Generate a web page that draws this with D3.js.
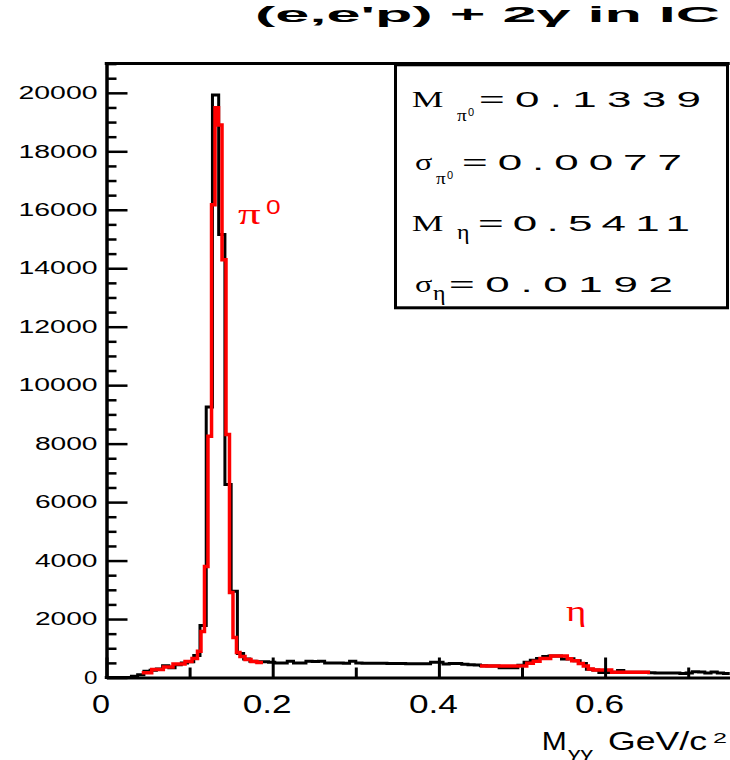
<!DOCTYPE html>
<html><head><meta charset="utf-8">
<script src="https://cdn.jsdelivr.net/npm/d3@7"></script>
<style>html,body{margin:0;padding:0;background:#fff;} svg{display:block;}</style>
</head><body>
<svg id="chart" width="730" height="760"></svg>
<script>
// Two-photon invariant mass, 100 bins over 0 – 0.75 GeV/c^2
const massLow = 0, massHigh = 0.75, nBins = 100;
const counts = [
  0, 0, 0, 0, 40, 90, 210, 250, 290, 400,
  330, 440, 500, 540, 750, 1780, 9250, 19930, 15150, 6600,
  2950, 820, 630, 560, 540, 540, 520, 500, 500, 560,
  500, 500, 560, 550, 560, 500, 500, 500, 490, 560,
  500, 490, 490, 490, 490, 480, 480, 480, 470, 470,
  470, 470, 520, 520, 460, 480, 480, 450, 440, 430,
  400, 395, 395, 330, 330, 330, 420, 520, 590, 650,
  720, 735, 735, 630, 640, 570, 480, 280, 255, 170,
  170, 180, 240, 180, 180, 180, 180, 160, 150, 150,
  150, 150, 140, 150, 200, 190, 150, 190, 150, 140
];

// pi0 fit curve: step start (GeV/c^2) and value
const fitPiX = [0.0424, 0.0544, 0.0684, 0.080, 0.0945, 0.1029, 0.1095, 0.1137, 0.1179, 0.1221,
                0.1264, 0.1306, 0.1348, 0.1390, 0.1438, 0.1480, 0.1522, 0.1564, 0.1606, 0.1667,
                0.1739, 0.1811];
const fitPiY = [160, 270, 360, 460, 550, 650, 900, 1570, 3800, 8250,
                16170, 19490, 18900, 14290, 8310, 2906, 1370, 855, 720, 615,
                550, 510];
const fitPiEnd = 0.1883;

// eta fit curve
const fitEtaX = [0.4495, 0.5057, 0.5136, 0.5217, 0.5345, 0.5545, 0.5598, 0.5678, 0.5738, 0.5798, 0.5858, 0.6079];
const fitEtaY = [395, 490, 560, 650, 735, 640, 570, 480, 395, 290, 255, 180];
const fitEtaEnd = 0.654;

const yMajorTicks = [0, 2000, 4000, 6000, 8000, 10000, 12000, 14000, 16000, 18000, 20000];
const xMajorTicks = [0, 0.2, 0.4, 0.6];
const xMinorTicks = [0.1, 0.3, 0.5, 0.7];
const xTickLabels = ["0", "0.2", "0.4", "0.6"];

const statSymbols = ["M", "σ", "M", "σ"];
const statSubs = ["π", "π", "η", "η"];
const statSups = ["0", "0", "", ""];
const statValues = ["0.1339", "0.0077", "0.5411", "0.0192"];

const svg = d3.select("#chart");
const x = d3.scaleLinear().domain([massLow, massHigh]).range([106.5, 729.75]);
const y = d3.scaleLinear().domain([0, 21000]).range([677.5, 63.6]);
const FONT = "'Liberation Sans', Arial, Helvetica, sans-serif";
const SERIF = "'Liberation Serif', 'Times New Roman', serif";

// text squeezed/stretched to a fixed width
function txt(g, s, px, py, size, width, opts = {}) {
  return g.append("text")
    .attr("x", px).attr("y", py)
    .attr("font-family", opts.family || FONT)
    .attr("font-size", size)
    .attr("font-weight", opts.weight || "normal")
    .attr("fill", opts.fill || "#000")
    .attr("text-anchor", opts.anchor || "start")
    .attr("textLength", width)
    .attr("lengthAdjust", "spacingAndGlyphs")
    .text(s);
}
// wide text: glyphs widened by `stretch`, the rest of the width taken up as letter gaps
function wide(g, s, px, py, size, width, stretch, opts = {}) {
  const t = g.append("text")
    .attr("transform", `translate(${px},${py}) scale(${stretch},1)`)
    .attr("font-family", opts.family || FONT)
    .attr("font-size", size)
    .attr("font-weight", opts.weight || "normal")
    .attr("fill", opts.fill || "#000")
    .text(s);
  if (s.length > 1) t.attr("textLength", width / stretch).attr("lengthAdjust", "spacing");
  return t;
}

// ---- data histogram ----
const binW = (massHigh - massLow) / nBins;
const histPts = counts.map((c, i) => [massLow + i * binW, c]);
histPts.push([massHigh, counts[nBins - 1]]);
const stepLine = d3.line().x(d => x(d[0])).y(d => y(d[1])).curve(d3.curveStepAfter);
svg.append("path").attr("d", stepLine(histPts))
  .attr("fill", "none").attr("stroke", "#000").attr("stroke-width", 3);

// ---- fit curves ----
function fitPath(xs, ys, xEnd) {
  const pts = xs.map((v, i) => [v, ys[i]]);
  pts.push([xEnd, ys[ys.length - 1]]);
  svg.append("path").attr("d", stepLine(pts))
    .attr("fill", "none").attr("stroke", "#ff0000").attr("stroke-width", 3.5);
}
fitPath(fitPiX, fitPiY, fitPiEnd);
fitPath(fitEtaX, fitEtaY, fitEtaEnd);

// ---- axes ----
const yAxis = svg.append("g").attr("transform", `translate(${x(0)},0)`)
  .call(d3.axisLeft(y).tickValues(yMajorTicks).tickSizeInner(-21).tickSizeOuter(0)
        .tickPadding(9).tickFormat(d3.format("d")));
yAxis.selectAll(".tick line").attr("stroke-width", 2.5);
yAxis.select(".domain").attr("stroke-width", 3.5);
yAxis.selectAll(".tick text")
  .attr("font-family", FONT).attr("font-size", 18)
  .attr("textLength", d => 16.4 * String(d).length - 3)
  .attr("lengthAdjust", "spacingAndGlyphs");

const yMinor = d3.range(0, 21001, 500).filter(v => v % 2000 !== 0);
const yAxisMinor = svg.append("g").attr("transform", `translate(${x(0)},0)`)
  .call(d3.axisLeft(y).tickValues(yMinor).tickSizeInner(-10).tickSizeOuter(0).tickFormat(""));
yAxisMinor.select(".domain").remove();
yAxisMinor.selectAll(".tick line").attr("stroke-width", 2.5);

const xAxis = svg.append("g").attr("transform", `translate(0,${y(0)})`)
  .call(d3.axisBottom(x).tickValues(xMajorTicks).tickSizeInner(-20).tickSizeOuter(0)
        .tickPadding(17.75).tickFormat((d, i) => xTickLabels[i]));
xAxis.selectAll(".tick line").attr("stroke-width", 3);
xAxis.select(".domain").attr("stroke-width", 3);
xAxis.selectAll(".tick text")
  .attr("x", -6)
  .attr("font-family", FONT).attr("font-size", 25)
  .attr("textLength", (d, i) => xTickLabels[i].length === 1 ? 18 : 49)
  .attr("lengthAdjust", "spacingAndGlyphs");

const xAxisMinor = svg.append("g").attr("transform", `translate(0,${y(0)})`)
  .call(d3.axisBottom(x).tickValues(xMinorTicks).tickSizeInner(-10).tickSizeOuter(0).tickFormat(""));
xAxisMinor.select(".domain").remove();
xAxisMinor.selectAll(".tick line").attr("stroke-width", 3);

// top frame line and lower-left corner
svg.append("line").attr("x1", x(0) - 1.75).attr("x2", x(massHigh))
  .attr("y1", y(21000)).attr("y2", y(21000))
  .attr("stroke", "#000").attr("stroke-width", 3);
svg.append("line").attr("x1", x(0) - 1.75).attr("x2", x(0) + 1)
  .attr("y1", y(0)).attr("y2", y(0))
  .attr("stroke", "#000").attr("stroke-width", 3);

// ---- title ----
txt(svg, "(e,e'p) + 2γ in IC", 255, 22, 22, 465, { weight: "bold" });

// ---- axis title ----
const at = svg.append("g");
txt(at, "M", 541.7, 750, 25, 25);
txt(at, "γγ", 568, 757, 13, 25);
txt(at, "GeV/c", 608, 750, 25, 99);
txt(at, "2", 713, 743, 14, 14);

// ---- peak labels ----
wide(svg, "π", 238, 224, 30, 29, 1.5, { family: SERIF, fill: "#ff0000" });
wide(svg, "0", 266, 214, 21, 15, 1.25, { fill: "#ff0000" });
wide(svg, "η", 566, 621, 30, 24, 1.3, { family: SERIF, fill: "#ff0000" });

// ---- fit results box ----
svg.append("rect").attr("x", 395.5).attr("y", 64.8).attr("width", 332).attr("height", 243)
  .attr("fill", "#fff").attr("stroke", "#000").attr("stroke-width", 3);
const rowBase = [107, 169.5, 231, 292];
const valStart = [479, 462, 478, 449];
const valWidth = [222, 220, 212, 224];
const stats = svg.append("g");
statSymbols.forEach((sym, i) => {
  const b = rowBase[i];
  if (sym === "M") {
    wide(stats, sym, 411.7, b, 23, 32, 1.55, { family: SERIF });
  } else {
    wide(stats, sym, 415, b, 23, 18, 1.4, { family: SERIF });
  }
  const subX = sym === "M" ? 457 : 436;
  if (statSubs[i] === "π") {
    wide(stats, "π", subX, b + 14, 16, 13, 1.2, { family: SERIF });
    wide(stats, statSups[i], subX + 11, b + 9, 10, 7, 1.1);
  } else {
    wide(stats, "η", subX - (sym === "M" ? 0 : 3), b + 8, 20, 16, 1.2, { family: SERIF });
  }
  wide(stats, "=" + statValues[i], valStart[i], b, 22, valWidth[i], 2.0);
});
</script>
</body></html>
